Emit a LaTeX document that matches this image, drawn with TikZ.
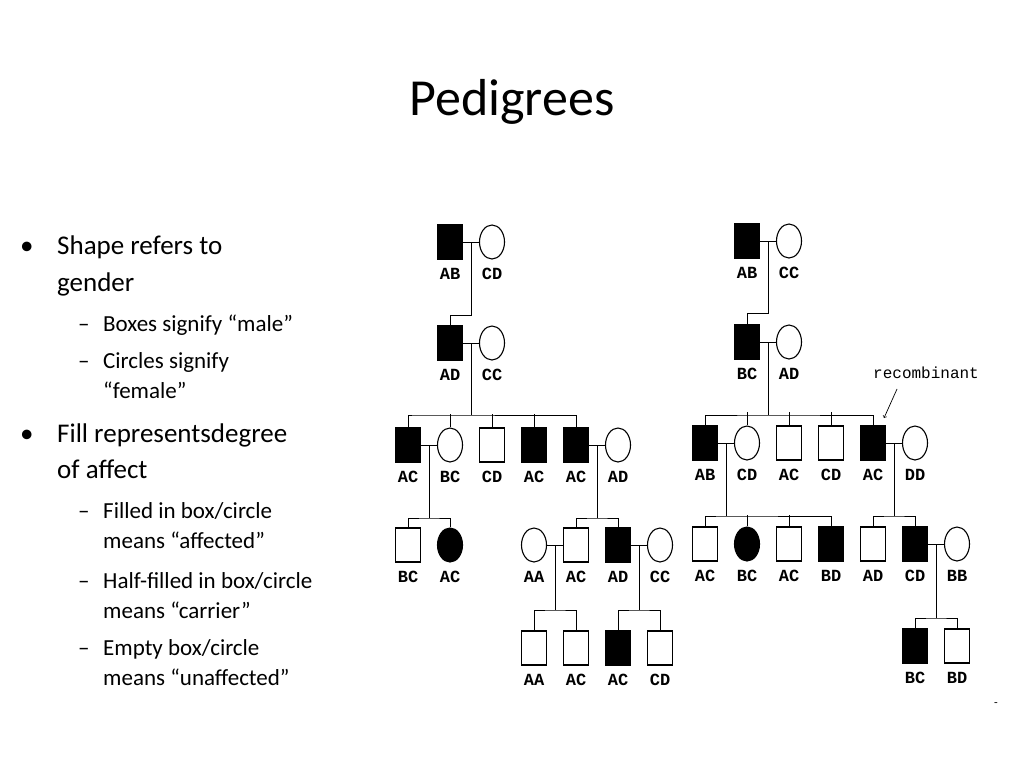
\documentclass[tikz,border=0pt]{standalone}
\usepackage{fontspec}
\setmainfont{Carlito}
\newfontfamily\monof{Liberation Mono}
\usetikzlibrary{calc,shapes.geometric}
\tikzset{
 sym/.style={draw=black,line width=1.1pt,inner sep=0pt,minimum width=25pt,minimum height=34pt},
 male/.style={sym,rectangle},
 fem/.style={sym,ellipse},
 aff/.style={fill=black},
 lbl/.style={font=\monof\fontsize{17}{17}\selectfont\bfseries,inner sep=0pt},
 ln/.style={line width=1pt},
 bul/.style={anchor=base west,inner sep=0pt,font=\fontsize{27}{27}\selectfont},
 sub/.style={anchor=base west,inner sep=0pt,font=\fontsize{23}{23}\selectfont},
}
\newcommand{\pp}[5]{\node[#4] (#1) at (#2,#3) {}; \node[lbl] (#1l) at (#2,#3+32) {#5};}
\begin{document}
\begin{tikzpicture}[x=1pt,y=-1pt]
\useasboundingbox (0,0) rectangle (1024,768);
\node[font=\fontsize{52}{52}\selectfont,anchor=base] (title) at (512,115) {Pedigrees};
% bullets
\node[bul] (b1) at (20,254) {•};
\node[bul] (t1) at (57,254) {Shape refers to};
\node[bul] (t1b) at (57,291) {gender};
\node[sub] (d1) at (78,331) {–}; \node[sub] (s1) at (103,331) {Boxes signify “male”};
\node[sub] (d2) at (78,368) {–}; \node[sub] (s2) at (103,368) {Circles signify};
\node[sub] (s2b) at (103,398) {“female”};
\node[bul] (b2) at (20,442) {•};
\node[bul] (t2) at (57,442) {Fill representsdegree};
\node[bul] (t2b) at (57,478) {of affect};
\node[sub] (d3) at (78,518) {–}; \node[sub] (s3) at (103,518) {Filled in box/circle};
\node[sub] (s3b) at (103,548) {means “affected”};
\node[sub] (d4) at (78,588) {–}; \node[sub] (s4) at (103,588) {Half-filled in box/circle};
\node[sub] (s4b) at (103,618) {means “carrier”};
\node[sub] (d5) at (78,655) {–}; \node[sub] (s5) at (103,655) {Empty box/circle};
\node[sub] (s5b) at (103,685) {means “unaffected”};
% ===== left pedigree =====
\pp{a1}{450}{242}{male,aff}{AB} \pp{a2}{492}{242}{fem}{CD}
\pp{b1p}{450}{343}{male,aff}{AD} \pp{b2}{492}{343}{fem}{CC}
\pp{c1}{408}{445}{male,aff}{AC} \pp{c2}{450}{445}{fem}{BC} \pp{c3}{492}{445}{male}{CD}
\pp{c4}{534}{445}{male,aff}{AC} \pp{c5}{576}{445}{male,aff}{AC} \pp{c6}{618}{445}{fem}{AD}
\pp{d1n}{408}{545}{male}{BC} \pp{d2n}{450}{545}{fem,aff}{AC}
\pp{e1}{534}{545}{fem}{AA} \pp{e2}{576}{545}{male}{AC} \pp{e3}{618}{545}{male,aff}{AD} \pp{e4}{660}{545}{fem}{CC}
\pp{g1}{534}{648}{male}{AA} \pp{g2}{576}{648}{male}{AC} \pp{g3}{618}{648}{male,aff}{AC} \pp{g4}{660}{648}{male}{CD}
\begin{scope}[ln]
\draw (a1) -- (a2); \draw ($(a1)!.5!(a2)$) -- (471,315) -| (b1p.north);
\draw (b1p) -- (b2); \draw ($(b1p)!.5!(b2)$) -- (471,415);
\draw (c1.north) |- (415,415) -| (c5.north); \draw (c2.north)--++(0,-13); \draw (c3.north)--++(0,-13); \draw (c4.north)--++(0,-13);
\draw (c1) -- (c2); \draw ($(c1)!.5!(c2)$) -- (429,518);
\draw (d1n.north) |- (429,518) -| (d2n.north);
\draw (c5) -- (c6); \draw ($(c5)!.5!(c6)$) -- (597,518);
\draw (e2.north) |- (597,518) -| (e3.north);
\draw (e1) -- (e2); \draw ($(e1)!.5!(e2)$) -- (555,610);
\draw (g1.north) |- (555,610) -| (g2.north);
\draw (e3) -- (e4); \draw ($(e3)!.5!(e4)$) -- (639,610);
\draw (g3.north) |- (639,610) -| (g4.north);
\end{scope}
% ===== right pedigree =====
\pp{r1}{747}{241}{male,aff}{AB} \pp{r2}{789}{241}{fem}{CC}
\pp{q1}{747}{342}{male,aff}{BC} \pp{q2}{789}{342}{fem}{AD}
\pp{h1}{705}{443}{male,aff}{AB} \pp{h2}{747}{443}{fem}{CD} \pp{h3}{789}{443}{male}{AC}
\pp{h4}{831}{443}{male}{CD} \pp{h5}{873}{443}{male,aff}{AC} \pp{h6}{915}{443}{fem}{DD}
\pp{k1}{705}{544}{male}{AC} \pp{k2}{747}{544}{fem,aff}{BC} \pp{k3}{789}{544}{male}{AC} \pp{k4}{831}{544}{male,aff}{BD}
\pp{k5}{873}{544}{male}{AD} \pp{k6}{915}{544}{male,aff}{CD} \pp{k7}{957}{544}{fem}{BB}
\pp{m1}{915}{646}{male,aff}{BC} \pp{m2}{957}{646}{male}{BD}
\node[font=\monof\fontsize{16}{16}\selectfont,inner sep=0pt] (rec) at (926,373) {recombinant};
\coordinate (arrtip) at (884,418);
\draw[line width=0.7pt,->] (897,389) -- (arrtip);
\begin{scope}[ln]
\draw (r1) -- (r2); \draw ($(r1)!.5!(r2)$) -- (768,313) -| (q1.north);
\draw (q1) -- (q2); \draw ($(q1)!.5!(q2)$) -- (768,415);
\draw (h1.north) |- (768,415) -| (h5.north); \draw (h2.north)--++(0,-13); \draw (h3.north)--++(0,-13); \draw (h4.north)--++(0,-13);
\draw (h1) -- (h2); \draw ($(h1)!.5!(h2)$) -- (726,516);
\draw (k1.north) |- (726,516) -| (k4.north); \draw (k2.north)--++(0,-11); \draw (k3.north)--++(0,-11);
\draw (h5) -- (h6); \draw ($(h5)!.5!(h6)$) -- (894,516);
\draw (k5.north) |- (894,516) -| (k6.north);
\draw (k6) -- (k7); \draw ($(k6)!.5!(k7)$) -- (936,618);
\draw (m1.north) |- (936,618) -| (m2.north);
\end{scope}
\node[font=\fontsize{12}{12}\selectfont] (dash) at (996,705) {-};
\end{tikzpicture}
\end{document}
